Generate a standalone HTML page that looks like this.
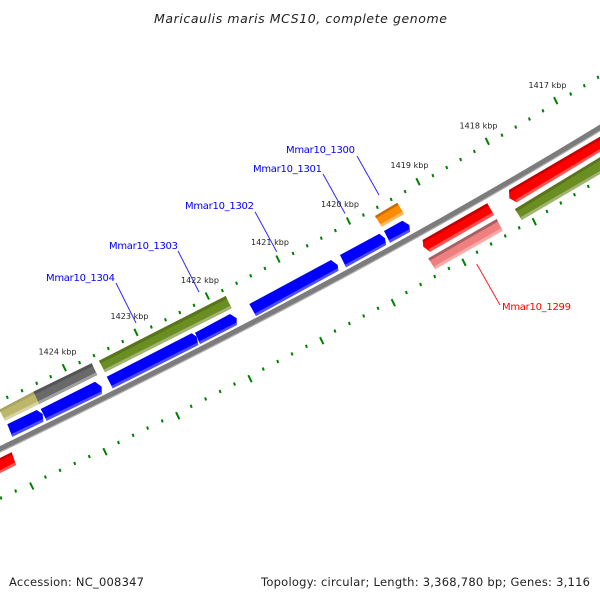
<!DOCTYPE html>
<html><head><meta charset="utf-8"><style>
html,body{margin:0;padding:0;background:#fff;width:600px;height:600px;overflow:hidden}
svg{display:block}
text{font-family:"DejaVu Sans","Liberation Sans",sans-serif}
.k{font-size:8px;fill:#222}
.g{font-size:10px;fill:#0000ff}
.b{font-size:11.5px;fill:#222}
</style></head><body>
<svg width="600" height="600" viewBox="0 0 600 600" xmlns="http://www.w3.org/2000/svg">
<rect width="600" height="600" fill="#fff"/>
<text x="154" y="23" font-size="12.5" font-style="italic" fill="#222" textLength="293" lengthAdjust="spacing">Maricaulis maris MCS10, complete genome</text>

<!-- ticks upper major -->
<path fill="none" stroke="#008000" stroke-width="2" d="M62.6 364.2L66 371.2M134.3 328.8L137.7 335.8M205.6 292.5L209 299.5M276.3 255.5L279.7 262.5M346.8 217.5L350.2 224.5M416.3 178.2L419.7 185.2M485.6 137.8L489 144.8M554 97.2L557.4 104.2
M30 482.5L33.4 489.5M103.3 448.2L106.7 455.2M176 412.2L179.4 419.2M248.3 375.2L251.7 382.2M320 337.2L323.4 344.2M391.6 299.2L395 306.2M462.3 258.8L465.7 265.8M532.6 218.2L536 225.2"/>
<!-- ticks minor -->
<path fill="none" stroke="#008000" stroke-width="2" d="M6.8 395.8l1 3M21.5 389.2l1 3M36.2 381.8l1 3M50.2 375.2l1 3M79.1 361.1l1 3M93.5 354.1l1 3M107.8 347l1 3M122.2 339.9l1 3M150.8 325.5l1 3M165 318.3l1 3M179.3 311l1 3M193.5 303.8l1 3M221.9 289.1l1 3M236.1 281.7l1 3M250.2 274.3l1 3M264.4 266.9l1 3M292.6 251.9l1 3M306.7 244.3l1 3M320.8 236.7l1 3M334.9 229.1l1 3M362.9 213.6l1 3M376.8 205.8l1 3M390.7 197.9l1 3M404.6 190.1l1 3M432.4 174.1l1 3M446.2 166l1 3M460.1 158l1 3M473.9 149.9l1 3M501.5 133.7l1 3M515.2 125.6l1 3M528.9 117.5l1 3M542.5 109.3l1 3M570.2 92.5l1 3M583.8 84.2l1 3M597.5 75.8l1 3
M.5 496.5l1 3M15.2 489.5l1 3M44.9 475.6l1 3M59.5 468.8l1 3M74.2 461.9l1 3M88.8 455.1l1 3M118 441l1 3M132.6 433.8l1 3M147.1 426.6l1 3M161.7 419.4l1 3M190.7 404.8l1 3M205.1 397.4l1 3M219.6 390l1 3M234 382.6l1 3M262.8 367.6l1 3M277.2 360l1 3M291.5 352.4l1 3M305.9 344.8l1 3M334.5 329.6l1 3M348.9 322l1 3M363.2 314.4l1 3M377.5 306.8l1 3M405.9 291.1l1 3M420.1 283l1 3M434.2 275l1 3M448.4 266.9l1 3M476.5 250.7l1 3M490.6 242.5l1 3M504.7 234.4l1 3M518.7 226.3l1 3M546.5 209.9l1 3M560.3 201.5l1 3M574 193.2l1 3M587.8 184.9l1 3"/>

<!-- backbone -->
<path fill="none" stroke="#7c7c7c" stroke-width="5.5" d="M-2 450C200 352 400 250 602 126.5"/>
<path fill="none" stroke="#b0b0b0" stroke-width="1.2" d="M-1 452.6C201 354.6 401 252.6 603 129.1"/>

<!-- khaki -->
<polygon fill="#bdb76b" points="0,409.3 33.3,391.7 39.3,404 5,420.8 0,411"/>
<polygon fill="#aaa462" points="0,409.3 33.3,391.7 34.7,394.4 0,412"/>
<polygon fill="#d6d3a4" points="3.7,418.2 38,401.4 39.3,404 5,420.8"/>
<!-- gray -->
<polygon fill="#696969" points="33.3,391.7 91.7,363.3 97.3,375 39.3,404"/>
<polygon fill="#555" points="33.3,391.7 91.7,363.3 93.1,366 34.7,394.4"/>
<polygon fill="#a0a0a0" points="38,401.4 96,372.4 97.3,375 39.3,404"/>
<!-- olive big -->
<polygon fill="#6b8e23" points="99,360.7 225.7,296 231.7,308.3 105,372.3"/>
<polygon fill="#587519" points="99,360.7 225.7,296 227.1,298.7 100.4,363.4"/>
<polygon fill="#a0b474" points="103.7,369.7 230.4,305.7 231.7,308.3 105,372.3"/>
<!-- orange -->
<polygon fill="#ff8c00" points="375,216 397.3,202.7 404,214 381.7,226.7"/>
<polygon fill="#c86e00" points="375,216 397.3,202.7 398.5,205 376.2,218.3"/>
<polygon fill="#ffb860" points="380.4,224.2 402.7,211.5 404,214 381.7,226.7"/>

<!-- blue genes -->
<g fill="#0000ff">
<polygon points="7.3,424.3 36.7,410 42.7,414 43.3,421.7 12.3,436.7"/>
<polygon points="40.7,409 95,381.7 101.7,386.7 101.7,394 46.7,420.7"/>
<polygon points="106.7,376.7 191.7,333.3 196.7,336.7 198.3,345 112.7,388.3"/>
<polygon points="195,332.7 230,314 236.7,318.3 236.7,325 200,344"/>
<polygon points="249.3,304 331,260 337.7,265 338.3,270.7 256,316"/>
<polygon points="340,255 379.3,233.7 385,238.3 386,245 346,267.3"/>
<polygon points="384,231 402.3,220.7 409.3,225 410,231.7 390,242.7"/>
</g>
<g fill="#5050ff">
<polygon points="12.3,436.7 43.3,421.7 42.9,419 11,434.3"/>
<polygon points="46.7,420.7 101.7,394 101.7,391.2 45.4,418.3"/>
<polygon points="112.7,388.3 198.3,345 197.7,342.4 111.4,385.9"/>
<polygon points="200,344 236.7,325 236.7,322.4 198.7,341.6"/>
<polygon points="256,316 338.3,270.7 338.1,268 254.7,313.6"/>
<polygon points="346,267.3 386,245 385.8,242.4 344.7,264.9"/>
<polygon points="390,242.7 410,231.7 409.8,229 388.7,240.3"/>
</g>

<!-- red small left -->
<polygon fill="#ff0000" points="0,458 11.7,452.3 16,465 0,473"/>
<polygon fill="#cc0000" points="0,458 11.7,452.3 12.6,455 0,460.8"/>
<polygon fill="#ff5555" points="0,470.4 14.7,462.4 16,465 0,473"/>
<!-- red 1299 -->
<polygon fill="#ff0000" points="422.7,240 487.3,203.3 494,215 430,251.7 423.3,246.7"/>
<polygon fill="#c40000" points="422.7,240 487.3,203.3 488.6,205.7 423,242.5"/>
<polygon fill="#ff5555" points="428.7,249.1 492.7,212.4 494,215 430,251.7"/>
<!-- pink -->
<polygon fill="#f08080" points="428.3,258.3 496.7,219 502.7,230.7 435,269.3"/>
<polygon fill="#a86060" points="428.3,258.3 496.7,219 498,221.5 429.6,260.8"/>
<polygon fill="#f8aaaa" points="433.7,266.7 501.4,228.1 502.7,230.7 435,269.3"/>
<!-- red right -->
<polygon fill="#ff0000" points="509,190 600,136.7 600,151.7 516.7,202.3 509.3,198.3"/>
<polygon fill="#c40000" points="509,190 600,136.7 600,139.6 509.2,192.8"/>
<polygon fill="#ff5555" points="515.4,199.7 600,149 600,151.7 516.7,202.3"/>
<!-- olive right -->
<polygon fill="#6b8e23" points="515,209 600,157.3 600,174 521.7,220"/>
<polygon fill="#587519" points="515,209 600,157.3 600,160.4 516.4,211.7"/>
<polygon fill="#a0b474" points="520.4,217.4 600,171 600,174 521.7,220"/>

<!-- leader lines -->
<g fill="none" stroke="#2a2aff" stroke-width="1">
<line x1="116" y1="283" x2="136" y2="323"/>
<line x1="178" y1="251" x2="199" y2="292"/>
<line x1="255" y1="211.7" x2="276.7" y2="251.7"/>
<line x1="323" y1="174" x2="345" y2="213.5"/>
<line x1="357" y1="156" x2="379" y2="195"/>
</g>
<line x1="476.7" y1="264" x2="500" y2="305" stroke="#ff2020" stroke-width="1"/>

<!-- kbp labels -->
<text class="k" x="528.5" y="88" textLength="38">1417 kbp</text>
<text class="k" x="459.5" y="128.5" textLength="38">1418 kbp</text>
<text class="k" x="390.5" y="168" textLength="38">1419 kbp</text>
<text class="k" x="321" y="207" textLength="38">1420 kbp</text>
<text class="k" x="251" y="245" textLength="38">1421 kbp</text>
<text class="k" x="181" y="283" textLength="38">1422 kbp</text>
<text class="k" x="110.5" y="319" textLength="38">1423 kbp</text>
<text class="k" x="38.5" y="354.5" textLength="38">1424 kbp</text>

<!-- gene labels -->
<text class="g" x="286" y="153" textLength="69">Mmar10_1300</text>
<text class="g" x="253" y="172" textLength="69">Mmar10_1301</text>
<text class="g" x="185" y="209" textLength="69">Mmar10_1302</text>
<text class="g" x="109" y="249" textLength="69">Mmar10_1303</text>
<text class="g" x="46" y="281" textLength="69">Mmar10_1304</text>
<text class="g" x="502" y="310" textLength="69" style="fill:#ff0000">Mmar10_1299</text>

<!-- footer -->
<text class="b" x="9" y="586" textLength="135">Accession: NC_008347</text>
<text class="b" x="261" y="586" textLength="329">Topology: circular; Length: 3,368,780 bp; Genes: 3,116</text>
</svg>
</body></html>
